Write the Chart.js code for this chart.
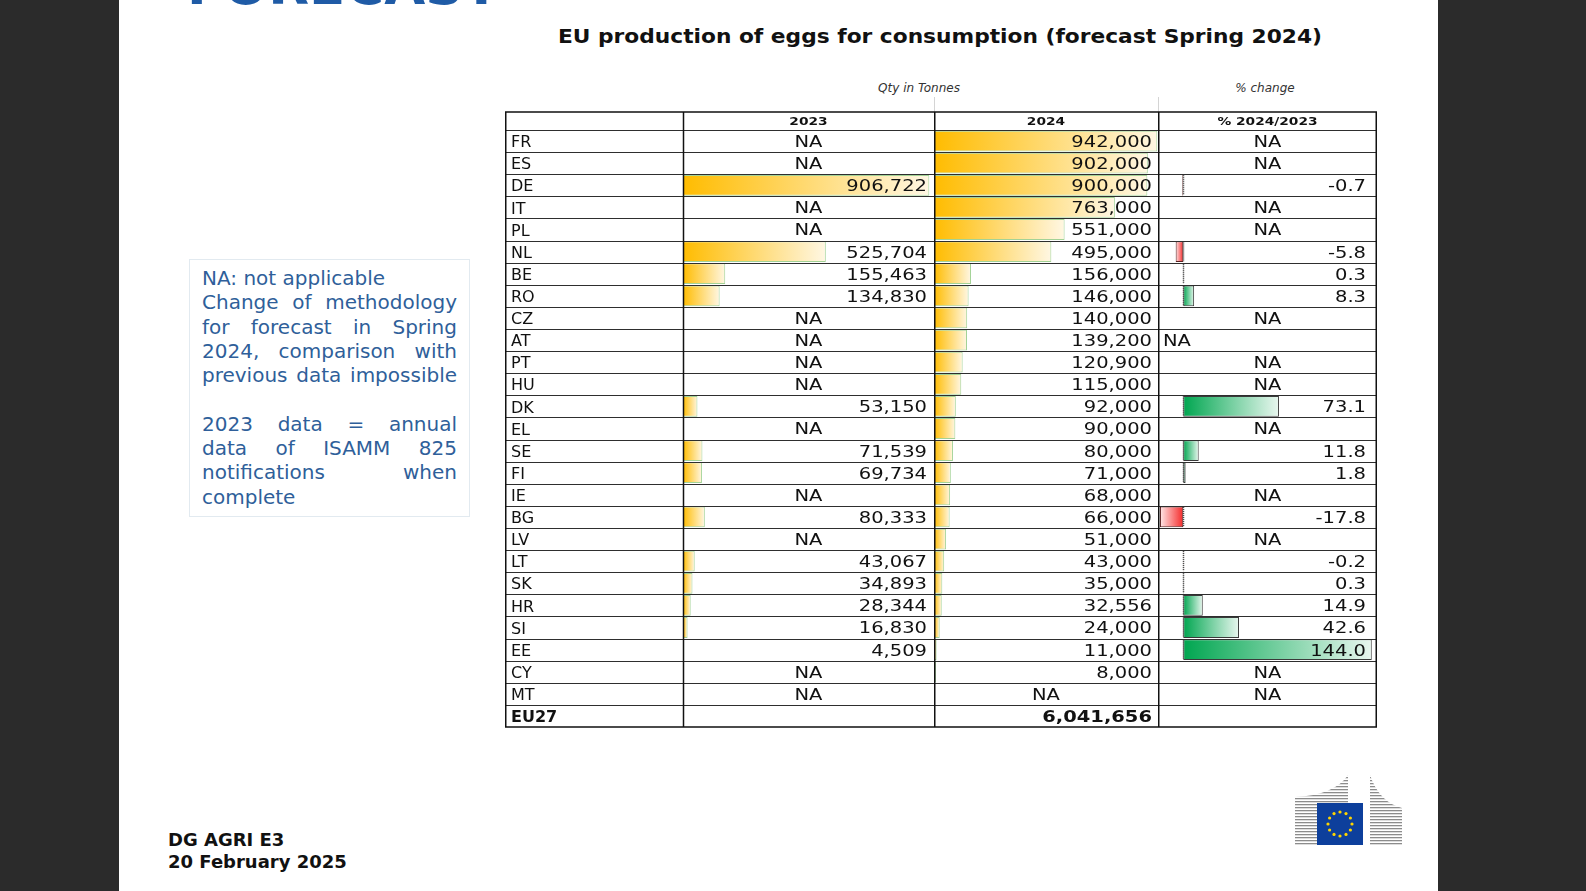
<!DOCTYPE html>
<html>
<head>
<meta charset="utf-8">
<title>EU production of eggs for consumption</title>
<script src="https://cdn.jsdelivr.net/npm/chart.js@4.4.1/dist/chart.umd.min.js"></script>
<style>
    html, body { margin: 0; padding: 0; }
    body {
        width: 1586px; height: 891px; overflow: hidden; position: relative;
        background: #2b2b2b; font-family: "DejaVu Sans", Verdana, sans-serif;
    }
    .abs { position: absolute; }
    #slide { left: 119px; top: 0; width: 1319px; height: 891px; background: #fff; }
    #forecast { left: 187px; top: -41px; font: bold 53px/53px "DejaVu Sans"; color: #1f5ba6; white-space: nowrap; }
    #title { left: 558px; top: 24px; font: bold 19px/24px "DejaVu Sans"; color: #111; white-space: nowrap; transform-origin: 0 0; }
    .sub { top: 80px; width: 200px; text-align: center; font: italic 12px/17px "DejaVu Sans"; color: #333; }
    .vsep { top: 97px; width: 1px; height: 15px; background: #d4d4d4; }
    #note { left: 189px; top: 259px; width: 279px; height: 256px; border: 1px solid #e2eaf0; }
    #note .in { position: absolute; left: 12px; top: 6px; width: 255px; }
    #note .ln { height: 24.3px; line-height: 24.3px; font-size: 20px; color: #2f5f9a; white-space: nowrap; }
    #note .j { text-align: justify; text-align-last: justify; }
    #footer { left: 168px; top: 829px; font: bold 18px/22.3px "DejaVu Sans"; color: #111; }
    canvas { position: absolute; }
</style>
</head>
<body>
<div id="slide" class="abs"></div>
<div id="forecast" class="abs">FORECAST</div>
<div id="title" class="abs">EU production of eggs for consumption (forecast Spring 2024)</div>
<div class="abs sub" style="left:819px">Qty in Tonnes</div>
<div class="abs sub" style="left:1165px">% change</div>
<div class="abs vsep" style="left:934px"></div>
<div class="abs vsep" style="left:1158px"></div>

<div id="note" class="abs">
    <div class="in">
        <div class="ln">NA: not applicable</div>
        <div class="ln j">Change of methodology</div>
        <div class="ln j">for forecast in Spring</div>
        <div class="ln j">2024, comparison with</div>
        <div class="ln j">previous data impossible</div>
        <div class="ln"></div>
        <div class="ln j">2023 data = annual</div>
        <div class="ln j">data of ISAMM 825</div>
        <div class="ln j">notifications when</div>
        <div class="ln">complete</div>
    </div>
</div>

<div id="footer" class="abs">DG AGRI E3<br>20 February 2025</div>

<svg id="logo" class="abs" style="left:1295px;top:774px" width="108" height="72" viewBox="0 0 108 72">
    <defs>
        <pattern id="stripes" width="4" height="3" patternUnits="userSpaceOnUse">
            <rect width="4" height="1.3" fill="#8c8c8c"/>
        </pattern>
    </defs>
    <path d="M0 23 Q40 21 53 1 L53 71 L0 71 Z" fill="url(#stripes)"/>
    <path d="M75 1 Q84 28 107 34 L107 71 L75 71 Z" fill="url(#stripes)"/>
    <rect x="22" y="29" width="46" height="42" fill="#0d3f9c"/>
    <g id="stars" fill="#ffd500"></g>
</svg>

<canvas id="col2023" width="429" height="617" style="left:505px;top:111px"></canvas>
<canvas id="col2024" width="224" height="617" style="left:934px;top:111px"></canvas>
<canvas id="colPct" width="219" height="617" style="left:1158px;top:111px"></canvas>

<script>
// ---- data ----
const countries = ['FR', 'ES', 'DE', 'IT', 'PL', 'NL', 'BE', 'RO', 'CZ', 'AT', 'PT', 'HU', 'DK',
    'EL', 'SE', 'FI', 'IE', 'BG', 'LV', 'LT', 'SK', 'HR', 'SI', 'EE', 'CY', 'MT'];
const totalLabel = 'EU27';

// tonnes, null = NA
const qty2023 = [null, null, 906722, null, null, 525704, 155463, 134830, null, null, null, null, 53150,
    null, 71539, 69734, null, 80333, null, 43067, 34893, 28344, 16830, 4509, null, null];
const qty2024 = [942000, 902000, 900000, 763000, 551000, 495000, 156000, 146000, 140000, 139200, 120900, 115000, 92000,
    90000, 80000, 71000, 68000, 66000, 51000, 43000, 35000, 32556, 24000, 11000, 8000, null];
const total2024 = 6041656;

// % 2024/2023
const pctChange = [null, null, -0.7, null, null, -5.8, 0.3, 8.3, null, null, null, null, 73.1,
    null, 11.8, 1.8, null, -17.8, null, -0.2, 0.3, 14.9, 42.6, 144.0, null, null];
const pctNaLeft = ['AT'];   // this NA sits at the left of its cell on the slide

const headers = ['2023', '2024', '% 2024/2023'];

// ---- helpers ----
const rowLabels = countries.concat([totalLabel]);
const FONT = '"DejaVu Sans", Verdana, sans-serif';

function fmt(v) {
    return String(v).replace(/\B(?=(\d{3})+(?!\d))/g, ',');
}

function qtyCells(values, total) {
    const cells = values.map(v => v == null ? { text: 'NA', align: 'center' } : { text: fmt(v), align: 'right' });
    cells.push(total == null ? { text: '' } : { text: fmt(total), align: 'right', bold: true });
    return cells;
}

const cells2023 = qtyCells(qty2023, null);
const cells2024 = qtyCells(qty2024, total2024);
const cellsPct = pctChange.map((v, i) => {
    if (v == null) return { text: 'NA', align: pctNaLeft.includes(countries[i]) ? 'left' : 'center' };
    return { text: v.toFixed(1), align: 'right' };
});
cellsPct.push({ text: '' });

// gradient running from the bar base (value 0) out to its end, like Excel data bars
function gradientFill(solid, pale) {
    return function (c) {
        const chart = c.chart;
        if (!chart.chartArea || c.raw == null) return solid;
        const x = chart.scales.x;
        const x0 = x.getPixelForValue(0);
        const x1 = x.getPixelForValue(c.raw);
        if (x0 === x1) return solid;
        const g = chart.ctx.createLinearGradient(x0, 0, x1, 0);
        g.addColorStop(0, solid);
        g.addColorStop(1, pale);
        return g;
    };
}

function drawText(ctx, text, px, py, align, bold, size, sx) {
    ctx.save();
    ctx.translate(px, py);
    ctx.scale(sx, 1);   // the slide's table text is stretched horizontally
    ctx.font = (bold ? 'bold ' : '') + size + 'px ' + FONT;
    ctx.textAlign = align;
    ctx.textBaseline = 'middle';
    ctx.fillStyle = '#111';
    ctx.fillText(text, 0, 0);
    ctx.restore();
}

// grid lines, header and cell texts of the table
const tablePlugin = {
    id: 'tableCells',
    afterDraw(chart, args, opts) {
        const ctx = chart.ctx;
        const area = chart.chartArea;
        const y = chart.scales.y;
        const x = chart.scales.x;
        const W = chart.width;
        const n = chart.data.labels.length;
        const band = (area.bottom - area.top) / n;

        ctx.save();
        // zero axis of the % bars, dotted, only where a value exists
        if (opts.zeroLine) {
            const zx = Math.round(x.getPixelForValue(0)) + 0.5;
            ctx.strokeStyle = '#3c3c3c';
            ctx.lineWidth = 1.5;
            ctx.setLineDash([1, 1]);
            chart.data.datasets[0].data.forEach((v, i) => {
                if (v == null) return;
                const cy = y.getPixelForValue(i);
                ctx.beginPath();
                ctx.moveTo(zx, cy - band / 2 + 1);
                ctx.lineTo(zx, cy + band / 2 - 1);
                ctx.stroke();
            });
            ctx.setLineDash([]);
        }

        // row lines
        ctx.strokeStyle = '#2e2e2e';
        ctx.lineWidth = 1;
        for (let i = 0; i < n; i++) {
            const py = Math.round(y.getPixelForValue(i) - band / 2) + 0.5;
            ctx.beginPath();
            ctx.moveTo(0, py);
            ctx.lineTo(W, py);
            ctx.stroke();
        }
        // outer top / bottom
        ctx.strokeStyle = '#111';
        ctx.lineWidth = 1.5;
        ctx.beginPath();
        ctx.moveTo(0, 1); ctx.lineTo(W, 1);
        ctx.moveTo(0, area.bottom); ctx.lineTo(W, area.bottom);
        ctx.stroke();

        // vertical lines
        const verts = [0.75];
        if (opts.labelDivider) verts.push(area.left + 0.5);
        if (opts.rightBorder) verts.push(W - 0.75);
        verts.forEach(vx => {
            ctx.beginPath();
            ctx.moveTo(vx, 1);
            ctx.lineTo(vx, area.bottom);
            ctx.stroke();
        });
        ctx.restore();

        // header
        drawText(ctx, opts.header, (area.left + area.right) / 2, 11.5, 'center', true, 11, 1.25);

        // cells
        opts.cells.forEach((cell, i) => {
            if (!cell.text) return;
            const cy = y.getPixelForValue(i) + 2;
            let px = (area.left + area.right) / 2;
            if (cell.align === 'right') px = area.right - opts.padRight;
            if (cell.align === 'left') px = area.left + 5;
            drawText(ctx, cell.text, px, cy, cell.align, cell.bold, 15, 1.3);
        });
    }
};

function makeChart(id, dataset, xMin, xMax, tableOpts, showLabels) {
    const yScale = {
        display: showLabels,
        grid: { display: false },
        border: { display: false },
        ticks: {
            autoSkip: false,
            crossAlign: 'far',
            padding: 0,
            labelOffset: 2,
            color: '#111',
            font: c => ({ family: FONT, size: 16, weight: c.tick && c.tick.label === totalLabel ? 'bold' : 'normal' })
        }
    };
    if (showLabels) {
        // label column has the fixed width of the slide's first column
        yScale.afterFit = s => {
            s.width = 172;
            s.paddingTop = 0;
            s.paddingBottom = 0;
        };
    }
    return new Chart(document.getElementById(id), {
        type: 'bar',
        data: { labels: rowLabels, datasets: [dataset] },
        options: {
            indexAxis: 'y',
            responsive: false,
            animation: false,
            devicePixelRatio: 1,
            layout: { padding: { top: 19, bottom: 1, left: showLabels ? 6 : 0, right: 0 } },
            plugins: {
                legend: { display: false },
                tooltip: { enabled: false },
                tableCells: tableOpts
            },
            scales: {
                x: { display: false, min: xMin, max: xMax },
                y: yScale
            }
        },
        plugins: [tablePlugin]
    });
}

function barSet(values, fill, border) {
    return {
        data: values.concat([null]),
        backgroundColor: fill,
        borderColor: border,
        borderWidth: 1,
        borderSkipped: false,
        barPercentage: 0.94,
        categoryPercentage: 1
    };
}

document.addEventListener('DOMContentLoaded', function () {
    // fit the title to the width it has on the slide
    const title = document.getElementById('title');
    title.style.transform = 'scaleX(' + (764 / title.getBoundingClientRect().width) + ')';

    // EU flag stars
    const stars = document.getElementById('stars');
    for (let k = 0; k < 12; k++) {
        const a = k * Math.PI / 6;
        const c = document.createElementNS('http://www.w3.org/2000/svg', 'circle');
        c.setAttribute('cx', (45 + 12 * Math.sin(a)).toFixed(2));
        c.setAttribute('cy', (50 - 12 * Math.cos(a)).toFixed(2));
        c.setAttribute('r', '1.6');
        stars.appendChild(c);
    }

    const orange = gradientFill('#ffbc00', '#fff7e3');

    makeChart('col2023', barSet(qty2023, orange, '#a3d296'), 0, 924000,
        { header: headers[0], cells: cells2023, padRight: 7, labelDivider: true }, true);

    makeChart('col2024', barSet(qty2024, orange, '#a3d296'), 0, 945000,
        { header: headers[1], cells: cells2024, padRight: 6 }, false);

    const pctFill = c => c.raw != null && c.raw < 0
        ? gradientFill('#f42a2a', '#ffe9e9')(c)
        : gradientFill('#00a650', '#e9f7ef')(c);
    const pctBorder = c => c.raw != null && c.raw < 0 ? '#5a2020' : '#3a3a3a';

    makeChart('colPct', barSet(pctChange, pctFill, pctBorder), -19.3, 148.0,
        { header: headers[2], cells: cellsPct, padRight: 11, zeroLine: true, rightBorder: true }, false);
});
</script>
</body>
</html>
